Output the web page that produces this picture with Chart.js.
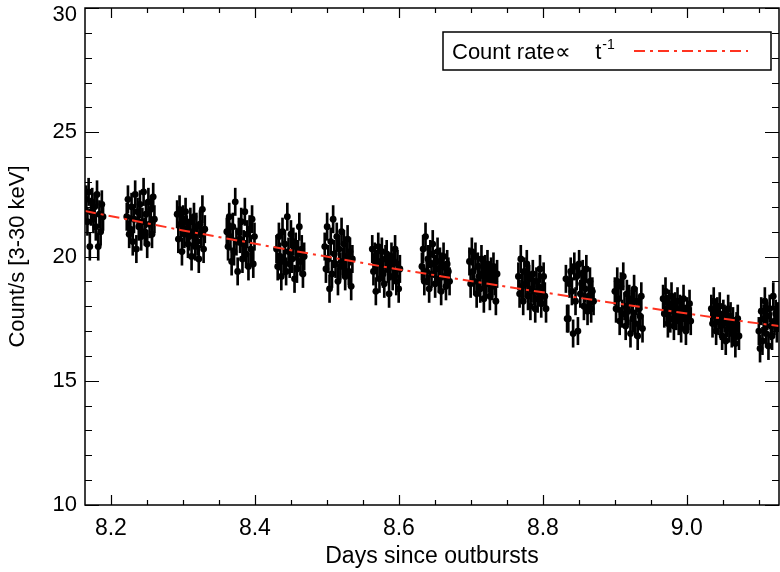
<!DOCTYPE html>
<html>
<head>
<meta charset="utf-8">
<title>Count rate vs days since outburst</title>
<script src="https://cdn.jsdelivr.net/npm/chart.js@4.4.1/dist/chart.umd.min.js"></script>
<style>
  html, body { margin: 0; padding: 0; background: #fff; }
</style>
</head>
<body>
<canvas id="lc" width="780" height="572"></canvas>
<script>
// time bin width (days) inside each orbit
const binDays = 0.00167;

// start of each orbit (days since outburst)
const orbitStart = [8.164, 8.222, 8.292, 8.361, 8.430, 8.497, 8.563, 8.632,
                    8.698, 8.766, 8.832, 8.900, 8.967, 9.034, 9.100];

// count rates per bin, one list per orbit
const orbitRates = [
  [21.9, 22.3, 21.4, 22.6, 20.4, 21.8, 22.2, 21.5, 22.0, 21.2, 22.5, 20.4, 21.7, 21.0, 22.1, 21.6],
  [21.6, 22.3, 20.9, 21.1, 22.0, 20.6, 21.5, 22.5, 20.3, 21.8, 21.2, 22.1, 20.8, 21.4, 22.6, 21.0, 21.7, 20.5, 22.2, 21.3, 21.9, 20.9, 22.4, 21.5],
  [21.7, 20.7, 21.9, 21.3, 20.2, 21.5, 20.9, 21.8, 21.1, 20.5, 20.8, 21.4, 20.0, 21.0, 21.6, 20.4, 21.2, 20.6, 19.9, 21.3, 20.9, 21.9, 20.3, 21.1],
  [21.0, 20.4, 21.6, 20.8, 19.8, 21.2, 20.2, 22.2, 20.6, 19.4, 21.0, 20.7, 21.4, 19.9, 20.5, 21.8, 20.1, 20.9, 19.6, 21.1, 20.3, 21.5, 19.7, 20.8],
  [20.3, 19.6, 20.8, 20.0, 19.2, 21.0, 19.8, 20.5, 19.4, 21.6, 20.2, 19.7, 20.9, 19.9, 20.6, 19.1, 20.4, 19.5, 20.1, 21.2, 19.8, 20.3, 19.3, 20.0],
  [20.4, 19.5, 21.2, 19.9, 18.7, 20.6, 19.3, 21.5, 20.1, 19.7, 20.8, 19.0, 20.3, 19.6, 21.0, 19.8, 20.5, 19.2, 20.0, 20.7, 19.4, 20.2, 18.8, 19.9],
  [20.3, 19.4, 20.0, 18.6, 19.7, 20.4, 19.1, 19.8, 20.2, 19.3, 18.9, 19.9, 20.1, 19.5, 18.5, 19.6, 20.0, 19.2, 19.8, 20.3, 19.0, 19.7, 18.7, 19.5],
  [19.6, 20.3, 19.0, 20.8, 19.4, 19.9, 18.7, 20.1, 19.3, 20.5, 19.7, 18.9, 19.5, 20.2, 19.1, 19.8, 18.6, 19.6, 20.0, 19.2, 18.8, 19.7, 19.4, 19.0],
  [19.8, 18.9, 20.2, 19.4, 19.0, 20.0, 18.5, 19.6, 19.2, 18.7, 19.9, 19.3, 18.3, 19.5, 18.9, 19.7, 19.1, 18.4, 19.4, 18.8, 19.6, 19.0, 18.2, 19.3],
  [19.2, 18.5, 19.9, 18.8, 18.2, 19.4, 18.9, 19.7, 18.4, 19.1, 18.0, 18.7, 19.3, 18.6, 17.9, 19.0, 18.3, 18.8, 19.5, 18.1, 18.6, 19.2, 18.4, 17.9],
  [19.1, 17.5, 17.5, 18.9, 19.4, 18.6, 16.9, 19.6, 18.2, 19.2, 17.0, 19.7, 18.5, 18.9, 19.3, 18.0, 18.7, 19.5, 17.8, 18.4, 19.0, 17.9, 18.6, 18.2],
  [18.6, 17.9, 19.0, 18.3, 17.4, 18.8, 17.7, 19.2, 18.0, 17.2, 18.5, 17.8, 18.3, 16.9, 18.1, 17.5, 18.7, 17.3, 18.2, 16.8, 17.9, 17.6, 18.4, 17.1],
  [18.3, 17.7, 18.6, 17.9, 17.3, 18.1, 17.5, 18.4, 17.8, 17.2, 18.0, 17.6, 18.2, 17.4, 17.9, 17.1, 17.7, 18.3, 17.5, 17.0, 17.8, 17.6, 18.1, 17.4],
  [17.9, 17.3, 18.2, 17.6, 17.0, 17.8, 17.4, 18.0, 17.2, 16.8, 17.7, 17.5, 16.6, 17.3, 17.9, 17.1, 17.6, 16.9, 17.4, 17.0, 16.5, 17.2, 17.5, 16.8],
  [17.0, 16.3, 17.8, 16.6, 17.5, 18.2, 16.9, 17.6, 16.4, 17.9, 17.2, 16.8, 18.4, 17.4, 17.7, 17.1, 17.6]
];
const rateErr = 0.55;

// t^-1 model curve
const fitDays = [8.164, 8.30, 8.45, 8.60, 8.75, 8.90, 9.05, 9.128];
const fitRate = [21.83, 21.05, 20.25, 19.48, 18.78, 18.12, 17.50, 17.20];

const xMajor = [8.2, 8.4, 8.6, 8.8, 9.0];
const yMajor = [10, 15, 20, 25, 30];
const xMinorStep = 0.05;
const yMinorStep = 1;
const xRange = [8.164, 9.128];
const yRange = [10, 30];

const FONT = 'Liberation Sans, Arial, Helvetica, sans-serif';

const points = [];
const errBars = [];
orbitRates.forEach((rates, o) => {
    rates.forEach((r, i) => {
        const t = orbitStart[o] + i * binDays;
        points.push({ x: t, y: r });
        errBars.push({ x: t, y: [r - rateErr, r + rateErr] });
    });
});

function stepValues(min, max, step) {
    const out = [];
    for (let k = Math.ceil(min / step - 1e-6); k <= Math.floor(max / step + 1e-6); k++) {
        out.push(k * step);
    }
    return out;
}

// no extra room for labels that hang over the plot edges
function noOverhang(s) {
    s.paddingTop = 0;
    s.paddingBottom = 0;
    s.paddingLeft = 0;
    s.paddingRight = 0;
}

// IDL style box with inward ticks on all four sides
const frameTicks = {
    id: 'frameTicks',
    afterDatasetsDraw(chart) {
        const { ctx, chartArea: a, scales: { x, y } } = chart;
        ctx.save();
        ctx.strokeStyle = '#000';
        ctx.lineWidth = 1.5;
        ctx.strokeRect(a.left, a.top, a.right - a.left, a.bottom - a.top);
        ctx.lineWidth = 1.2;
        ctx.beginPath();
        stepValues(xRange[0], xRange[1], xMinorStep).forEach(v => {
            const major = xMajor.some(m => Math.abs(m - v) < 1e-6);
            const len = major ? 10 : 5;
            const px = Math.round(x.getPixelForValue(v)) + 0.5;
            ctx.moveTo(px, a.bottom); ctx.lineTo(px, a.bottom - len);
            ctx.moveTo(px, a.top); ctx.lineTo(px, a.top + len);
        });
        stepValues(yRange[0], yRange[1], yMinorStep).forEach(v => {
            const major = yMajor.includes(v);
            const len = major ? 14 : 7;
            const py = Math.round(y.getPixelForValue(v)) + 0.5;
            ctx.moveTo(a.left, py); ctx.lineTo(a.left + len, py);
            ctx.moveTo(a.right, py); ctx.lineTo(a.right - len, py);
        });
        ctx.stroke();
        ctx.restore();
    }
};

// boxed legend: text first, then the line sample
const boxLegend = {
    id: 'boxLegend',
    afterDraw(chart) {
        const { ctx, chartArea: a } = chart;
        const ds = chart.data.datasets[0];
        const right = a.right - 8, top = a.top + 24, h = 38, w = 328;
        const left = right - w;
        ctx.save();
        ctx.fillStyle = '#fff';
        ctx.fillRect(left, top, w, h);
        ctx.strokeStyle = '#000';
        ctx.lineWidth = 1.5;
        ctx.strokeRect(left, top, w, h);
        ctx.fillStyle = '#000';
        ctx.textBaseline = 'alphabetic';
        ctx.font = '22px ' + FONT;
        const tx = left + 9, base = top + 27;
        ctx.fillText(ds.label, tx, base);
        const tw = ctx.measureText(ds.label).width;
        ctx.font = '14px ' + FONT;
        ctx.fillText('-1', tx + tw + 1, base - 10);
        ctx.strokeStyle = ds.borderColor;
        ctx.lineWidth = ds.borderWidth;
        ctx.setLineDash(ds.borderDash);
        ctx.beginPath();
        ctx.moveTo(right - 137, top + 19);
        ctx.lineTo(right - 23, top + 19);
        ctx.stroke();
        ctx.restore();
    }
};

new Chart(document.getElementById('lc'), {
    type: 'scatter',
    data: {
        datasets: [
            {
                type: 'line',
                label: 'Count rate\u221D    t',
                data: fitDays.map((d, i) => ({ x: d, y: fitRate[i] })),
                borderColor: '#ff3320',
                borderWidth: 2,
                borderDash: [11, 5, 3, 5],
                pointRadius: 0,
                fill: false,
                order: 0
            },
            {
                type: 'scatter',
                label: 'Count rate',
                data: points,
                backgroundColor: '#000',
                borderColor: '#000',
                borderWidth: 0,
                pointRadius: 3.4,
                order: 1
            },
            {
                type: 'bar',
                label: 'Error',
                data: errBars,
                backgroundColor: '#000',
                barThickness: 2,
                order: 2
            }
        ]
    },
    options: {
        responsive: false,
        animation: false,
        layout: { autoPadding: false, padding: { top: 8, right: 1, left: 0, bottom: 0 } },
        plugins: { legend: { display: false }, tooltip: { enabled: false } },
        scales: {
            x: {
                type: 'linear',
                min: xRange[0],
                max: xRange[1],
                offset: false,
                grid: { display: false, drawTicks: false, offset: false },
                border: { display: false },
                afterBuildTicks: s => { s.ticks = xMajor.map(v => ({ value: v })); },
                afterFit: s => { s.height = 67; noOverhang(s); },
                ticks: {
                    color: '#000',
                    padding: 10,
                    maxRotation: 0,
                    font: { family: FONT, size: 23 },
                    callback: v => Number(v).toFixed(1)
                },
                title: {
                    display: true,
                    text: 'Days since outbursts',
                    color: '#000',
                    font: { family: FONT, size: 23 },
                    padding: { top: 0, bottom: 2 }
                }
            },
            y: {
                type: 'linear',
                min: yRange[0],
                max: yRange[1],
                grid: { display: false, drawTicks: false },
                border: { display: false },
                afterBuildTicks: s => { s.ticks = yMajor.map(v => ({ value: v })); },
                afterFit: s => { s.width = 85; noOverhang(s); },
                ticks: {
                    color: '#000',
                    padding: 8,
                    font: { family: FONT, size: 22, lineHeight: 0.64 },
                    // the top label sits just inside the page, below its tick
                    callback: v => (v === yRange[1] ? ['', String(v)] : String(v))
                },
                title: {
                    display: true,
                    text: 'Count/s [3-30 keV]',
                    color: '#000',
                    font: { family: FONT, size: 22 },
                    padding: { top: 5, bottom: 0 }
                }
            }
        }
    },
    plugins: [frameTicks, boxLegend]
});
</script>
</body>
</html>
